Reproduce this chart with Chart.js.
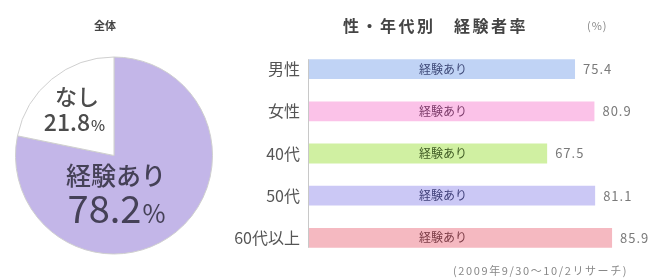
<!DOCTYPE html>
<html><head><meta charset="utf-8">
<script src="https://cdn.jsdelivr.net/npm/chart.js@4.4.1/dist/chart.umd.min.js"></script>
<style>
html,body{margin:0;padding:0;background:#fff;width:653px;height:280px;overflow:hidden;font-family:"Noto Sans CJK JP",sans-serif;}
#pieWrap{position:absolute;left:0;top:0;width:230px;height:280px;}
#barWrap{position:absolute;left:230px;top:0;width:423px;height:280px;}
.t{position:absolute;white-space:nowrap;color:#444;}
</style></head>
<body>
<div id="pieWrap"><canvas id="pie" width="230" height="280"></canvas></div>
<div id="barWrap"><canvas id="bar" width="423" height="280"></canvas></div>
<div class="t" style="left:94px;top:17px;font-size:11px;font-weight:bold;">全体</div>
<div class="t" style="left:343px;top:13px;font-size:16px;font-weight:bold;letter-spacing:2.5px;">性・年代別　経験者率</div>
<div class="t" style="left:587px;top:17px;font-size:11px;color:#888;letter-spacing:1px;">(%)</div>
<div class="t" style="left:453px;top:262px;font-size:11px;color:#888;letter-spacing:1.6px;">(2009年9/30～10/2リサーチ)</div>
<script>
const pieLabels = ["経験あり", "なし"];
const pieValues = [78.2, 21.8];
const pieColors = ["#c3b6e8", "#ffffff"];

const barCategories = ["男性", "女性", "40代", "50代", "60代以上"];
const barValues = [75.4, 80.9, 67.5, 81.1, 85.9];
const barColors = ["#c0d3f5", "#fbc2e8", "#d0f0a2", "#cbc8f5", "#f5b9c1"];
const barTextColors = ["#3f4a78", "#7a3a68", "#3f5a24", "#3f3f78", "#7a3a44"];
const barInnerLabel = "経験あり";

const JP = '"Noto Sans CJK JP", sans-serif';

function pctText(ctx, num, cx, cy, bigSize, smallSize, weight) {
  ctx.font = weight + ' ' + bigSize + 'px ' + JP;
  const w1 = ctx.measureText(num).width;
  ctx.font = weight + ' ' + smallSize + 'px ' + JP;
  const w2 = ctx.measureText('%').width;
  const x0 = cx - (w1 + w2) / 2;
  ctx.textAlign = 'left';
  ctx.textBaseline = 'alphabetic';
  const base = cy + bigSize * 0.36;
  ctx.font = weight + ' ' + bigSize + 'px ' + JP;
  ctx.fillText(num, x0, base);
  ctx.font = weight + ' ' + smallSize + 'px ' + JP;
  ctx.fillText('%', x0 + w1 + 1, base);
}

const pieLabelPlugin = {
  id: 'pieLabels',
  afterDatasetsDraw(chart) {
    const ctx = chart.ctx;
    const arc = chart.getDatasetMeta(0).data[0];
    const cx = arc.x, cy = arc.y;
    ctx.save();
    ctx.fillStyle = '#454157';
    ctx.textAlign = 'center';
    ctx.textBaseline = 'middle';
    ctx.font = '500 25px ' + JP;
    ctx.fillText(pieLabels[0], cx + 2, cy + 20);
    pctText(ctx, pieValues[0].toFixed(1), cx + 2, cy + 54, 38, 25, '400');
    ctx.fillStyle = '#4c4c4c';
    ctx.textAlign = 'center';
    ctx.textBaseline = 'middle';
    ctx.font = '500 22px ' + JP;
    ctx.fillText(pieLabels[1], cx - 37, cy - 59);
    pctText(ctx, pieValues[1].toFixed(1), cx - 40, cy - 33, 23, 15, '500');
    ctx.restore();
  }
};

new Chart(document.getElementById('pie'), {
  type: 'pie',
  data: { labels: pieLabels, datasets: [{ data: pieValues, backgroundColor: pieColors, borderColor: '#cfcfcf', borderWidth: 1 }] },
  options: {
    responsive: false, animation: false,
    layout: { padding: { left: 15, right: 17, top: 56, bottom: 25 } },
    plugins: { legend: { display: false }, tooltip: { enabled: false } }
  },
  plugins: [pieLabelPlugin]
});

const barLabelPlugin = {
  id: 'barLabels',
  afterDatasetsDraw(chart) {
    const ctx = chart.ctx;
    const meta = chart.getDatasetMeta(0);
    const xs = chart.scales.x;
    ctx.save();
    const first = meta.data[0], last = meta.data[meta.data.length - 1];
    ctx.strokeStyle = '#c8c8c8';
    ctx.lineWidth = 1;
    ctx.beginPath();
    ctx.moveTo(xs.getPixelForValue(0) - 0.5, first.y - first.height / 2);
    ctx.lineTo(xs.getPixelForValue(0) - 0.5, last.y + last.height / 2);
    ctx.stroke();
    meta.data.forEach((bar, i) => {
      ctx.textBaseline = 'middle';
      ctx.textAlign = 'left';
      ctx.fillStyle = '#7a7a7a';
      ctx.font = '13px ' + JP;
      ctx.letterSpacing = '1px';
      ctx.fillText(barValues[i].toFixed(1), bar.x + 8, bar.y);
      ctx.letterSpacing = '0px';
      ctx.textAlign = 'center';
      ctx.fillStyle = barTextColors[i];
      ctx.font = '12px ' + JP;
      ctx.fillText(barInnerLabel, xs.getPixelForValue(38), bar.y);
    });
    ctx.restore();
  }
};

new Chart(document.getElementById('bar'), {
  type: 'bar',
  data: { labels: barCategories, datasets: [{ data: barValues, backgroundColor: barColors, borderWidth: 0, barPercentage: 0.47, categoryPercentage: 1 }] },
  options: {
    indexAxis: 'y', responsive: false, animation: false,
    layout: { padding: { left: 0, right: 0, top: 48, bottom: 21 } },
    plugins: { legend: { display: false }, tooltip: { enabled: false } },
    scales: {
      x: { display: false, min: 0, max: 97.5 },
      y: {
        afterFit(scale) { scale.width = 79; },
        grid: { display: false, drawTicks: false },
        border: { display: false },
        ticks: { padding: 9, color: '#555', font: { size: 16, family: '"Noto Sans CJK JP", sans-serif' } }
      }
    }
  },
  plugins: [barLabelPlugin]
});
</script>
</body></html>
